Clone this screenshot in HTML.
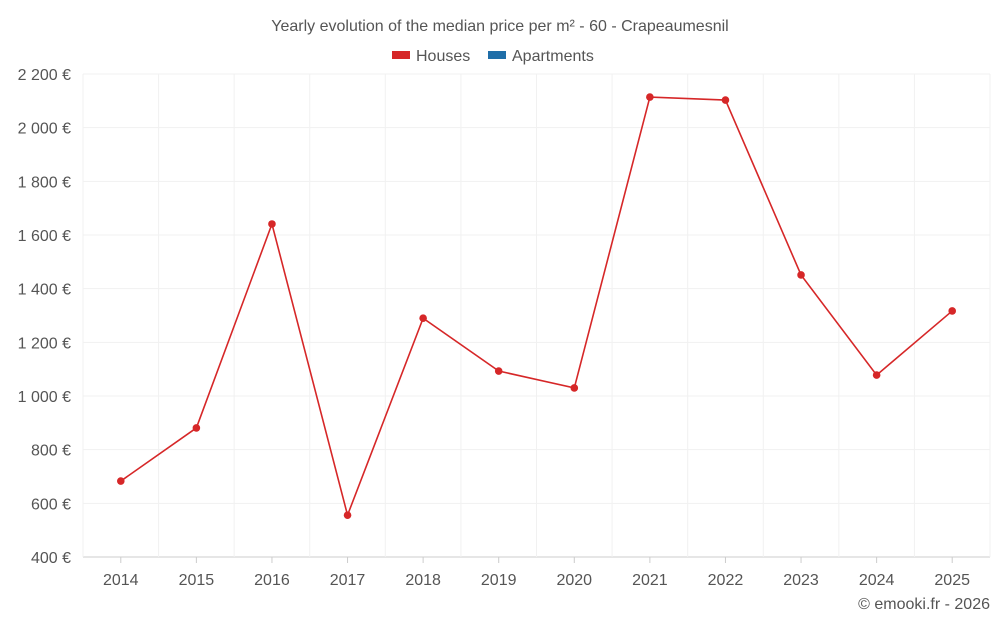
<!DOCTYPE html>
<html><head><meta charset="utf-8"><style>
body{margin:0;background:#fff;font-family:"Liberation Sans",sans-serif;}
svg text{font-family:"Liberation Sans",sans-serif;}
</style></head><body>
<svg id="chart" width="1000" height="625">
<text x="500" y="31" text-anchor="middle" font-size="16" fill="#555">Yearly evolution of the median price per m² - 60 - Crapeaumesnil</text>
<g>
<g><rect x="392" y="51" width="18" height="8" fill="#d62728"/><text x="416" y="61" font-size="16" fill="#555">Houses</text></g>
<g><rect x="488" y="51" width="18" height="8" fill="#1f6ea8"/><text x="512" y="61" font-size="16" fill="#555">Apartments</text></g>
</g>
<g id="grid"></g><g id="axes"></g><g id="series"></g>
<text x="990" y="609" text-anchor="end" font-size="16" fill="#555">© emooki.fr - 2026</text>
</svg>
<script>
const years=["2014","2015","2016","2017","2018","2019","2020","2021","2022","2023","2024","2025"];
const houses=[683,881,1641,556,1290,1093,1030,2114,2103,1451,1078,1317];
const yTicks=[400,600,800,1000,1200,1400,1600,1800,2000,2200];
const yTickLabels=["400 €","600 €","800 €","1 000 €","1 200 €","1 400 €","1 600 €","1 800 €","2 000 €","2 200 €"];
const L=83,R=990,T=74,B=557,yMin=400,yMax=2200;
const band=(R-L)/years.length;
const x=i=>L+band*(i+0.5);
const y=v=>B-(v-yMin)/(yMax-yMin)*(B-T);
const NS="http://www.w3.org/2000/svg";
function mk(tag,attrs,parent){const e=document.createElementNS(NS,tag);for(const k in attrs)e.setAttribute(k,attrs[k]);parent.appendChild(e);return e;}
const grid=document.getElementById('grid'),axes=document.getElementById('axes'),series=document.getElementById('series');
yTicks.forEach((t,i)=>{
 const l=mk('line',{x1:L,x2:R,y1:y(t),y2:y(t),stroke:i==0?'#ccc':'#f1f1f1'},grid);
 
 
 const tx=mk('text',{x:L-12,y:y(t)+6,'text-anchor':'end','font-size':16,fill:'#555'},axes);
 tx.textContent=yTickLabels[i];
 
 
});
for(let i=0;i<=years.length;i++){
 const gx=L+band*i;
 const l=mk('line',{x1:gx,x2:gx,y1:T,y2:B,stroke:'#f1f1f1'},grid);
 
 
}
years.forEach((yr,i)=>{
 const tk=mk('line',{x1:x(i),x2:x(i),y1:B,y2:B+6,stroke:'#ccc'},axes);
 
 
 const tx=mk('text',{x:x(i),y:B+28,'text-anchor':'middle','font-size':16,fill:'#555'},axes);
 tx.textContent=yr;
 
 
});
const pl=mk('polyline',{points:houses.map((v,i)=>x(i)+','+y(v)).join(' '),fill:'none',stroke:'#d62728','stroke-width':1.6},series);


houses.forEach((v,i)=>{
 const c=mk('circle',{cx:x(i),cy:y(v),r:3.8,fill:'#d62728'},series);
 
 
});
</script>
</body></html>
